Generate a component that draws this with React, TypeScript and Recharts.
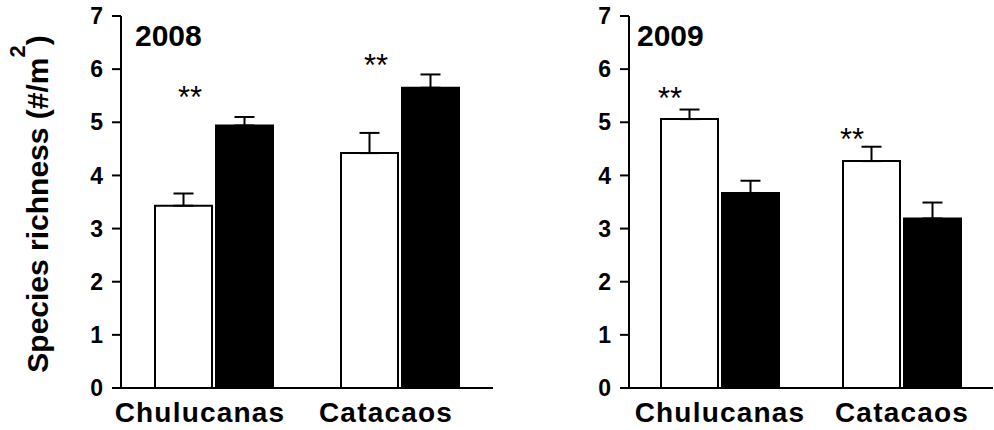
import React from 'react';
import { ComposedChart, Bar, XAxis, YAxis, ErrorBar, Scatter } from 'recharts';

const sites = ['Chulucanas', 'Catacaos'];
const yTicks = [0, 1, 2, 3, 4, 5, 6, 7];

const open2008 = [3.43, 4.42];
const openErr2008 = [0.23, 0.38];
const filled2008 = [4.94, 5.65];
const filledErr2008 = [0.16, 0.25];
const stars2008 = [5.58, 6.2];

const open2009 = [5.06, 4.27];
const openErr2009 = [0.18, 0.27];
const filled2009 = [3.67, 3.19];
const filledErr2009 = [0.23, 0.3];
const stars2009 = [5.57, 4.8];

const FONT = '"Liberation Sans", Arial, Helvetica, sans-serif';

function build(open: number[], openErr: number[], filled: number[], filledErr: number[], stars: number[]) {
  return sites.map((site, i) => ({
    site,
    open: open[i],
    openErr: [0, openErr[i]],
    filled: filled[i],
    filledErr: [0, filledErr[i]],
    star: stars[i],
  }));
}

const data2008 = build(open2008, openErr2008, filled2008, filledErr2008, stars2008);
const data2009 = build(open2009, openErr2009, filled2009, filledErr2009, stars2009);

const YTitle = (props: any) => {
  const vb = props.viewBox || { x: 0, y: 16, width: 121, height: 372 };
  const cx = 48;
  const cy = vb.y + vb.height / 2 + 2;
  return (
    <text
      x={cx}
      y={cy}
      transform={`rotate(-90, ${cx}, ${cy})`}
      textAnchor="middle"
      fontFamily={FONT}
      fontSize={30}
      fontWeight="bold"
      fill="#000"
    >
      Species richness (#/m
      <tspan dy={-23} fontSize={22}>2</tspan>
      <tspan dy={23}>)</tspan>
    </text>
  );
};

const makeTick = (dx: number) => (props: any) => {
  const { x, y, payload } = props;
  return (
    <text
      x={x + dx}
      y={y}
      dy="0.71em"
      textAnchor="middle"
      fontFamily={FONT}
      fontSize={28}
      fontWeight="bold"
      letterSpacing={1.2}
      fill="#000"
    >
      {payload.value}
    </text>
  );
};

const makeStar = (dx: number) => (props: any) => {
  const { cx, cy } = props;
  if (cx == null || cy == null) return <g />;
  return (
    <text x={cx + dx} y={cy + 17} textAnchor="middle" fontFamily={FONT} fontSize={31} fill="#000">
      **
    </text>
  );
};

type PanelProps = {
  data: any[];
  width: number;
  yAxisWidth: number;
  marginRight: number;
  title: string;
  titleX: number;
  tickDx: number;
  starDx: number;
  showYTitle: boolean;
};

const Panel = (p: PanelProps) => (
  <ComposedChart
    width={p.width}
    height={430}
    data={p.data}
    margin={{ top: 16, right: p.marginRight, bottom: 0, left: 0 }}
    barSize={57}
    barGap={4}
  >
    <XAxis
      dataKey="site"
      type="category"
      height={42}
      axisLine={{ stroke: '#000', strokeWidth: 2 }}
      tickLine={false}
      tickSize={0}
      tickMargin={14}
      tick={makeTick(p.tickDx)}
      interval={0}
    />
    <YAxis
      type="number"
      domain={[0, 7]}
      ticks={yTicks}
      width={p.yAxisWidth}
      axisLine={{ stroke: '#000', strokeWidth: 2 }}
      tickLine={{ stroke: '#000', strokeWidth: 2 }}
      tickSize={9}
      tickMargin={9}
      tick={{ fontFamily: FONT, fontSize: 23, fontWeight: 'bold', fill: '#000' }}
      label={p.showYTitle ? <YTitle /> : undefined}
    />
    <Bar dataKey="open" name="open" fill="#fff" stroke="#000" strokeWidth={2} isAnimationActive={false}>
      <ErrorBar dataKey="openErr" direction="y" width={10} stroke="#000" strokeWidth={2} />
    </Bar>
    <Bar dataKey="filled" name="filled" fill="#000" stroke="#000" strokeWidth={2} isAnimationActive={false}>
      <ErrorBar dataKey="filledErr" direction="y" width={10} stroke="#000" strokeWidth={2} />
    </Bar>
    <Scatter dataKey="star" shape={makeStar(p.starDx)} isAnimationActive={false} legendType="none" />
    <text x={p.titleX} y={46} fontFamily={FONT} fontSize={30} fontWeight="bold" fill="#000">
      {p.title}
    </text>
  </ComposedChart>
);

export default function App() {
  return (
    <div
      style={{
        position: 'absolute',
        left: 0,
        top: 0,
        width: 994,
        height: 430,
        overflow: 'hidden',
        background: '#fff',
        display: 'flex',
      }}
    >
      <Panel
        data={data2008}
        width={500}
        yAxisWidth={121}
        marginRight={7}
        title="2008"
        titleX={135}
        tickDx={-14}
        starDx={-24}
        showYTitle={true}
      />
      <Panel
        data={data2009}
        width={494}
        yAxisWidth={129}
        marginRight={1}
        title="2009"
        titleX={137}
        tickDx={0}
        starDx={-50}
        showYTitle={false}
      />
    </div>
  );
}
